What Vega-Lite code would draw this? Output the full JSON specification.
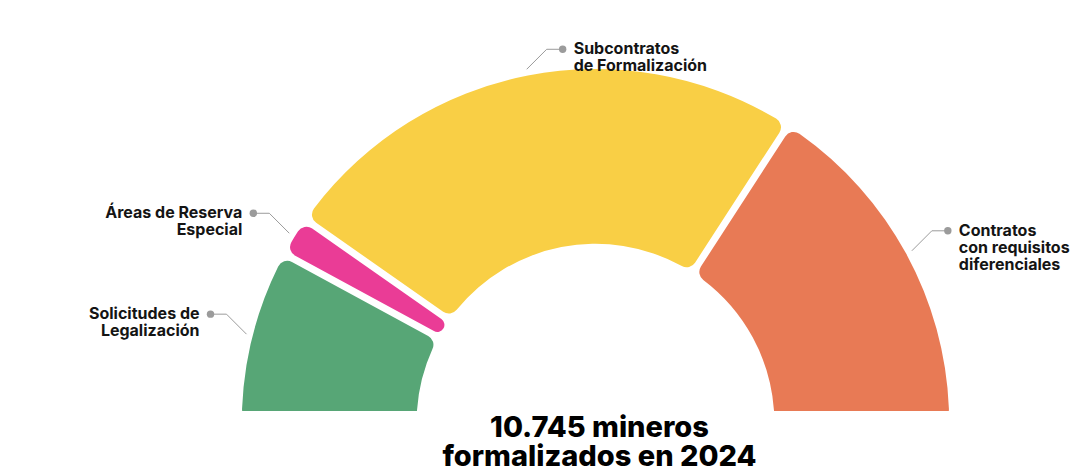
{
  "$schema": "https://vega.github.io/schema/vega-lite/v6.json",
  "width": 1078,
  "height": 411,
  "autosize": {"type": "none"},
  "padding": {"left": 0, "right": 0, "top": 0, "bottom": 57},
  "background": "#ffffff",
  "config": {"view": {"stroke": null}, "font": "Inter"},
  "data": {
    "values": [
      {"categoria": "Solicitudes de\nLegalización", "mineros": 1700},
      {"categoria": "Áreas de Reserva\nEspecial", "mineros": 390},
      {"categoria": "Subcontratos\nde Formalización", "mineros": 5250},
      {"categoria": "Contratos\ncon requisitos\ndiferenciales", "mineros": 3405}
    ]
  },
  "transform": [
    {"window": [{"op": "row_number", "as": "idx"}, {"op": "sum", "field": "mineros", "as": "acum"}], "frame": [null, 0]},
    {"joinaggregate": [{"op": "sum", "field": "mineros", "as": "total"}]},
    {"calculate": "PI * (datum.acum - datum.mineros / 2) / datum.total", "as": "ang"},
    {"calculate": "datum.acum > datum.total / 2 ? 1 : -1", "as": "lado"},
    {"calculate": "-1.018 * cos(datum.ang)", "as": "x0"},
    {"calculate": "1.018 * sin(datum.ang)", "as": "y0"},
    {"calculate": "datum.x0 + datum.lado * 0.0565", "as": "x1"},
    {"calculate": "datum.y0 + 0.0565", "as": "y1"},
    {"calculate": "datum.x1 + datum.lado * 0.0452", "as": "x2"}
  ],
  "layer": [
    {
      "mark": {"type": "arc", "innerRadius": 178.9, "outerRadius": 353.7, "cornerRadius": 10, "padAngle": 0.0177, "clip": true},
      "encoding": {
        "x": {"datum": 0, "type": "quantitative", "scale": {"domain": [-1.6836, 1.3642], "nice": false, "zero": false}, "axis": null},
        "y": {"datum": 0, "type": "quantitative", "scale": {"domain": [0.0331, 1.1951], "nice": false, "zero": false}, "axis": null},
        "theta": {"field": "mineros", "type": "quantitative", "stack": true, "scale": {"range": [-1.5707963, 1.5707963]}},
        "order": {"field": "idx", "type": "quantitative", "sort": "ascending"},
        "color": {
          "field": "categoria",
          "type": "nominal",
          "legend": null,
          "scale": {
            "domain": ["Solicitudes de\nLegalización", "Áreas de Reserva\nEspecial", "Subcontratos\nde Formalización", "Contratos\ncon requisitos\ndiferenciales"],
            "range": ["#57A676", "#EA3C96", "#F9CF45", "#E87A55"]
          }
        }
      }
    },
    {
      "mark": {"type": "rule", "color": "#9b9b9b", "strokeWidth": 1},
      "encoding": {
        "x": {"field": "x0", "type": "quantitative", "scale": {"domain": [-1.6836, 1.3642], "nice": false, "zero": false}, "axis": null},
        "y": {"field": "y0", "type": "quantitative", "scale": {"domain": [0.0331, 1.1951], "nice": false, "zero": false}, "axis": null},
        "x2": {"field": "x1"},
        "y2": {"field": "y1"}
      }
    },
    {
      "mark": {"type": "rule", "color": "#9b9b9b", "strokeWidth": 1},
      "encoding": {
        "x": {"field": "x1", "type": "quantitative", "scale": {"domain": [-1.6836, 1.3642], "nice": false, "zero": false}, "axis": null},
        "y": {"field": "y1", "type": "quantitative", "scale": {"domain": [0.0331, 1.1951], "nice": false, "zero": false}, "axis": null},
        "x2": {"field": "x2"}
      }
    },
    {
      "mark": {"type": "point", "filled": true, "size": 55, "color": "#9b9b9b", "opacity": 1},
      "encoding": {
        "x": {"field": "x2", "type": "quantitative", "scale": {"domain": [-1.6836, 1.3642], "nice": false, "zero": false}, "axis": null},
        "y": {"field": "y1", "type": "quantitative", "scale": {"domain": [0.0331, 1.1951], "nice": false, "zero": false}, "axis": null}
      }
    },
    {
      "transform": [{"filter": "datum.lado < 0"}],
      "mark": {"type": "text", "align": "right", "baseline": "middle", "dx": -11, "fontSize": 16, "fontWeight": 700, "lineBreak": "\n", "lineHeight": 17, "color": "#141414"},
      "encoding": {
        "x": {"field": "x2", "type": "quantitative", "scale": {"domain": [-1.6836, 1.3642], "nice": false, "zero": false}, "axis": null},
        "y": {"field": "y1", "type": "quantitative", "scale": {"domain": [0.0331, 1.1951], "nice": false, "zero": false}, "axis": null},
        "text": {"field": "categoria"}
      }
    },
    {
      "transform": [{"filter": "datum.lado > 0"}],
      "mark": {"type": "text", "align": "left", "baseline": "middle", "dx": 11, "fontSize": 16, "fontWeight": 700, "lineBreak": "\n", "lineHeight": 17, "color": "#141414"},
      "encoding": {
        "x": {"field": "x2", "type": "quantitative", "scale": {"domain": [-1.6836, 1.3642], "nice": false, "zero": false}, "axis": null},
        "y": {"field": "y1", "type": "quantitative", "scale": {"domain": [0.0331, 1.1951], "nice": false, "zero": false}, "axis": null},
        "text": {"field": "categoria"}
      }
    },
    {
      "transform": [
        {"aggregate": [{"op": "sum", "field": "mineros", "as": "suma"}]},
        {"calculate": "replace(format(datum.suma, ','), ',', '.') + ' mineros\\nformalizados en 2024'", "as": "rotulo"}
      ],
      "mark": {"type": "text", "align": "center", "baseline": "alphabetic", "dy": 14, "dx": 4, "fontSize": 29, "fontWeight": 800, "lineBreak": "\n", "lineHeight": 29, "color": "#000000"},
      "encoding": {
        "x": {"datum": 0, "type": "quantitative", "scale": {"domain": [-1.6836, 1.3642], "nice": false, "zero": false}, "axis": null},
        "y": {"datum": 0, "type": "quantitative", "scale": {"domain": [0.0331, 1.1951], "nice": false, "zero": false}, "axis": null},
        "text": {"field": "rotulo"}
      }
    }
  ]
}
